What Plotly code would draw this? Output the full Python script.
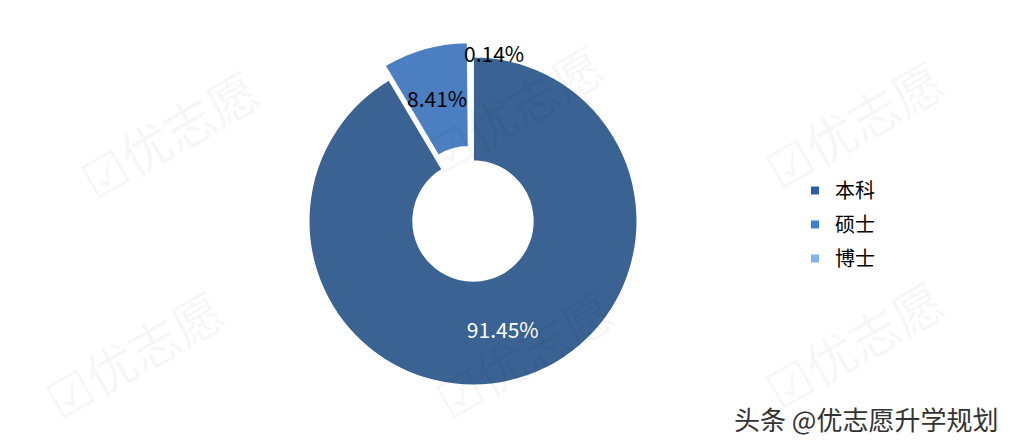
import plotly.graph_objects as go

categories = ["本科", "硕士", "博士"]
values = [91.45, 8.41, 0.14]
colors = ["#3A6293", "#4B7FC1", "#7FAEE2"]
legend_colors = ["#2E5FAB", "#3A80D6", "#82B2EC"]
pulls = [0, 0.09, 0]

W, H = 1014, 448
FONT = "Noto Sans CJK SC, Noto Sans, sans-serif"

cx, cy = 465, 235  # domain centre in px (cy measured from bottom)
R = 179

fig = go.Figure()
fig.add_trace(go.Pie(
    labels=categories,
    values=values,
    sort=False,
    direction="clockwise",
    rotation=0,
    hole=0.365,
    pull=pulls,
    marker=dict(colors=colors, line=dict(color="white", width=1.5)),
    texttemplate=[f"{values[0]:.2f}%", "", ""],
    textposition="inside",
    insidetextorientation="horizontal",
    textfont=dict(color="white", size=21, family=FONT),
    hoverinfo="label+percent",
    showlegend=False,
    domain=dict(x=[(cx - R) / W, (cx + R) / W], y=[(cy - R) / H, (cy + R) / H]),
))

# legend entries (one per category)
for cat, col in zip(categories, legend_colors):
    fig.add_trace(go.Scatter(
        x=[None], y=[None], mode="markers", name=cat, legendgroup=cat,
        marker=dict(symbol="square", size=8, color=col),
        hoverinfo="skip",
    ))

annotations = []
# watermarks
for (x, y) in [(160, 125), (505, 100), (845, 115), (125, 345), (515, 345), (845, 335)]:
    annotations.append(dict(
        x=x / W, y=1 - y / H, xref="paper", yref="paper", showarrow=False,
        xanchor="center", yanchor="middle",
        text="☑优志愿", textangle=-30,
        font=dict(size=50, color="rgba(0,0,0,0.035)", family=FONT),
    ))

# labels for small slices
annotations.append(dict(x=429 / W, y=1 - 90 / H, xref="paper", yref="paper", showarrow=False,
                        xanchor="center", yanchor="middle",
                        text=f"{values[1]:.2f}%", font=dict(size=21, color="black", family=FONT)))
annotations.append(dict(x=486 / W, y=1 - 45 / H, xref="paper", yref="paper", showarrow=False,
                        xanchor="center", yanchor="middle",
                        text=f"{values[2]:.2f}%", font=dict(size=21, color="black", family=FONT)))
# footer
annotations.append(dict(x=992 / W, y=1 - 410 / H, xref="paper", yref="paper", showarrow=False,
                        xanchor="right", yanchor="middle", text="头条 @优志愿升学规划",
                        font=dict(size=26, color="#333333", family=FONT)))

fig.update_layout(
    width=W, height=H,
    margin=dict(l=0, r=0, t=0, b=0),
    paper_bgcolor="white",
    plot_bgcolor="white",
    xaxis=dict(visible=False),
    yaxis=dict(visible=False),
    showlegend=True,
    legend=dict(x=787 / W, y=1 - 163 / H, xanchor="left", yanchor="top",
                font=dict(size=20, color="black", family=FONT),
                bgcolor="rgba(0,0,0,0)", itemwidth=30, tracegroupgap=5),
    annotations=annotations,
)

fig.write_html("out.html")
